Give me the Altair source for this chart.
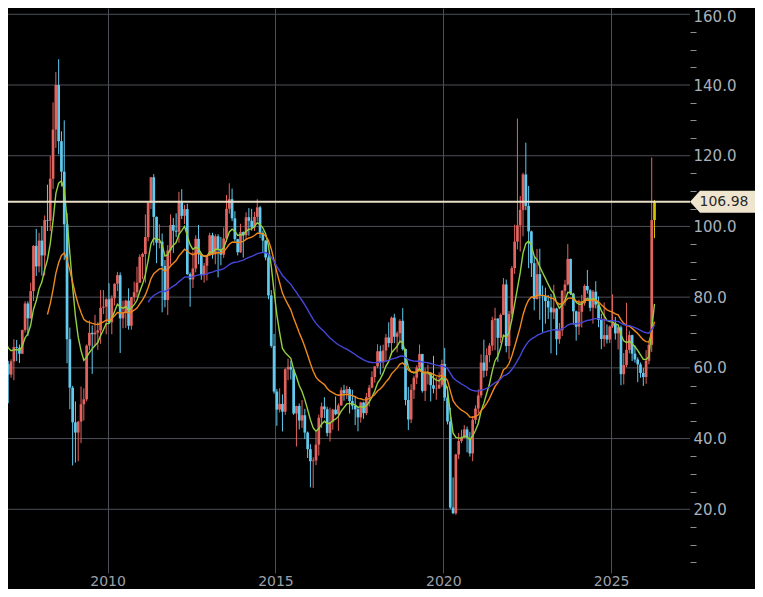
import altair as alt
import pandas as pd

# ---------------- data (monthly candles, Apr 2006 .. Apr 2026) ----------------
first_year = 2006
first_month = 4

opens = [
    66.6, 71.9, 71.3, 74.0, 74.4, 70.3, 62.9, 58.7, 63.1,                      # 2006
    61.1, 58.1, 61.8, 65.9, 65.7, 64.0, 70.7, 78.2, 74.0, 81.7, 94.5, 88.7,    # 2007
    96.0, 91.8, 101.8, 101.6, 113.5, 127.4, 140.0, 124.1, 115.5, 100.6, 68.1, 54.4,  # 2008
    44.6, 41.7, 44.8, 49.7, 51.1, 66.3, 69.9, 69.5, 70.0, 70.6, 77.0, 77.3,    # 2009
    79.4, 72.9, 79.7, 83.8, 86.2, 74.0, 75.6, 79.0, 71.9, 80.0, 81.4, 84.1,    # 2010
    91.4, 92.2, 97.0, 106.7, 113.9, 102.7, 95.4, 95.7, 88.8, 79.2, 93.2, 100.4,  # 2011
    98.8, 98.5, 107.1, 103.0, 104.9, 86.5, 85.0, 88.1, 96.5, 92.2, 86.2, 88.9,   # 2012
    91.8, 97.5, 92.1, 97.2, 93.5, 92.0, 96.6, 105.0, 107.7, 102.3, 96.4, 92.7,   # 2013
    98.4, 97.5, 102.6, 101.6, 99.7, 102.7, 105.4, 98.2, 96.0, 91.2, 80.5, 66.2,  # 2014
    53.3, 48.2, 49.8, 47.6, 59.6, 60.3, 59.5, 47.1, 49.2, 45.1, 46.6, 41.7,    # 2015
    37.0, 33.6, 33.8, 38.3, 45.9, 49.1, 48.3, 41.6, 44.7, 48.2, 46.9, 49.4,    # 2016
    53.7, 52.8, 54.0, 50.6, 49.3, 48.3, 46.0, 50.2, 47.2, 51.7, 54.4, 57.4,    # 2017
    60.4, 64.7, 61.6, 64.9, 68.6, 67.0, 74.2, 68.8, 69.8, 73.3, 65.3, 50.9,    # 2018
    45.4, 53.8, 57.2, 60.1, 63.9, 53.5, 58.5, 58.6, 55.1, 54.1, 54.2, 55.2,    # 2019
    61.1, 51.6, 44.8, 20.5, 18.9, 35.5, 39.3, 40.3, 42.6, 40.2, 35.8, 45.3,    # 2020
    48.5, 52.2, 61.5, 59.2, 63.6, 66.3, 73.5, 73.95, 68.5, 75.0, 83.6, 66.2,   # 2021
    75.2, 88.2, 95.7, 100.3, 104.7, 114.7, 105.8, 98.6, 89.6, 79.5, 86.5, 80.6,  # 2022
    80.3, 78.9, 77.1, 75.7, 76.8, 68.1, 70.6, 81.8, 83.6, 90.8, 81.0, 76.0,    # 2023
    71.65, 75.85, 78.26, 83.17, 81.93, 76.99, 81.54, 77.91, 73.55, 68.17, 69.26, 68.0,  # 2024
    71.72, 72.53, 69.76, 71.48, 58.21, 60.79, 65.11, 69.26, 64.01, 62.37, 60.98, 58.55,  # 2025
    57.4, 62.0, 66.5, 101.8,                                                   # 2026
]
highs = [
    75.4, 74.6, 74.2, 78.4, 77.0, 70.8, 64.1, 62.5, 64.3,
    62.0, 62.4, 68.1, 67.9, 66.6, 70.8, 78.8, 78.8, 84.1, 94.7, 99.3, 98.2,
    100.1, 103.1, 111.8, 119.9, 135.1, 143.7, 147.3, 126.9, 130.0, 103.8, 71.4, 54.9,
    50.5, 45.0, 54.7, 54.2, 66.6, 73.4, 72.0, 75.0, 72.9, 82.0, 82.0, 79.7,
    83.95, 80.5, 83.9, 87.15, 87.0, 79.0, 79.3, 82.5, 80.0, 84.4, 88.6, 92.1,
    92.6, 103.4, 107.0, 113.97, 114.8, 102.8, 100.6, 98.0, 90.5, 94.7, 103.4, 102.4,
    103.7, 109.8, 110.55, 106.1, 106.4, 87.0, 92.9, 97.5, 100.4, 92.6, 89.7, 91.98,
    98.2, 98.2, 97.8, 97.8, 97.0, 99.7, 108.9, 112.2, 110.7, 104.3, 96.5, 100.75,
    98.6, 104.0, 105.2, 104.99, 104.1, 107.7, 105.8, 98.8, 96.1, 92.2, 82.0, 69.6,
    54.0, 54.2, 52.5, 59.9, 62.6, 62.0, 59.7, 49.3, 49.9, 50.9, 48.4, 42.0,
    38.4, 34.7, 41.9, 46.8, 50.2, 51.7, 49.0, 48.75, 48.4, 51.9, 49.95, 54.5,
    55.2, 54.9, 54.6, 53.8, 52.0, 48.9, 50.4, 50.4, 52.9, 55.2, 59.05, 60.5,
    66.7, 66.3, 66.55, 69.6, 72.9, 74.5, 75.3, 70.3, 73.8, 76.9, 65.5, 54.55,
    55.4, 57.8, 60.7, 66.6, 64.0, 59.9, 60.9, 58.8, 63.4, 57.5, 58.7, 62.3,
    65.65, 54.7, 48.7, 29.0, 35.7, 41.6, 42.5, 43.8, 43.4, 41.9, 46.3, 49.4,
    53.9, 63.8, 67.98, 65.5, 67.0, 74.45, 76.98, 74.0, 75.4, 85.4, 84.97, 76.1,
    88.8, 100.5, 130.5, 108.6, 115.2, 123.7, 111.45, 98.8, 91.4, 93.6, 93.7, 83.3,
    82.7, 80.6, 80.9, 83.5, 77.0, 72.7, 82.0, 84.9, 95.0, 90.9, 81.2, 76.2,
    79.3, 80.6, 83.6, 87.7, 82.3, 82.0, 84.5, 80.2, 75.3, 78.5, 72.3, 72.0,
    80.8, 74.4, 71.9, 72.0, 64.2, 78.4, 70.5, 69.4, 66.4, 63.0, 61.5, 60.0,
    65.0, 67.5, 119.5, 107.5,
]
lows = [
    66.0, 68.2, 68.4, 72.6, 69.7, 59.5, 56.6, 54.9, 60.3,
    50.0, 57.2, 56.5, 61.9, 61.4, 63.9, 70.0, 69.0, 73.9, 78.9, 86.0, 87.0,
    86.1, 86.1, 98.7, 98.7, 110.6, 122.2, 120.4, 111.3, 90.5, 61.3, 48.3, 32.4,
    33.2, 33.6, 38.7, 45.1, 50.5, 65.0, 58.3, 66.1, 65.1, 66.8, 75.2, 69.5,
    72.4, 69.5, 77.6, 81.7, 64.2, 71.2, 71.3, 70.8, 70.8, 78.7, 80.0, 84.0,
    85.1, 84.1, 95.8, 104.9, 94.6, 89.6, 93.8, 75.7, 77.1, 74.95, 89.2, 92.5,
    97.0, 95.4, 102.1, 100.7, 86.3, 77.3, 82.6, 87.0, 89.3, 84.9, 84.1, 84.7,
    91.6, 90.9, 89.3, 85.6, 89.0, 91.1, 95.6, 103.6, 101.5, 95.8, 91.8, 92.5,
    91.2, 96.4, 97.4, 98.8, 98.7, 101.4, 96.7, 92.5, 90.4, 79.4, 65.7, 52.7,
    43.6, 47.4, 42.0, 46.7, 56.5, 56.7, 46.7, 37.75, 42.6, 43.0, 39.9, 34.5,
    26.2, 26.05, 32.5, 35.2, 43.0, 45.8, 40.6, 39.2, 42.5, 46.6, 42.2, 49.3,
    50.7, 51.2, 47.1, 48.2, 43.8, 42.05, 44.5, 45.6, 46.6, 49.1, 54.2, 55.8,
    59.9, 58.1, 59.9, 61.9, 65.8, 63.6, 67.0, 64.4, 67.0, 64.9, 49.4, 42.4,
    44.35, 51.2, 55.4, 59.9, 53.0, 50.6, 55.3, 50.5, 52.8, 50.99, 54.0, 54.6,
    50.6, 44.0, 20.1, 18.6, 18.4, 34.2, 38.7, 40.2, 36.1, 34.9, 33.6, 44.2,
    47.2, 51.5, 57.25, 57.6, 61.6, 64.8, 65.0, 61.7, 67.0, 74.95, 64.4, 62.4,
    74.3, 86.6, 93.5, 92.9, 97.2, 104.6, 88.2, 85.7, 76.25, 79.3, 73.6, 70.1,
    72.5, 73.8, 64.1, 73.8, 63.6, 66.8, 69.0, 77.6, 83.3, 80.6, 72.2, 67.7,
    69.3, 71.4, 77.6, 81.0, 76.0, 72.5, 76.8, 71.5, 65.3, 66.0, 66.9, 67.0,
    71.3, 68.0, 65.2, 55.1, 55.3, 60.2, 64.1, 61.9, 61.5, 55.96, 57.2, 54.9,
    55.5, 61.0, 64.5, 96.7,
]
closes = [
    71.9, 71.3, 74.0, 74.4, 70.3, 62.9, 58.7, 63.1, 61.1,
    58.1, 61.8, 65.9, 65.7, 64.0, 70.7, 78.2, 74.0, 81.7, 94.5, 88.7, 96.0,
    91.8, 101.8, 101.6, 113.5, 127.4, 140.0, 124.1, 115.5, 100.6, 68.1, 54.4, 44.6,
    41.7, 44.8, 49.7, 51.1, 66.3, 69.9, 69.5, 70.0, 70.6, 77.0, 77.3, 79.4,
    72.9, 79.7, 83.8, 86.2, 74.0, 75.6, 79.0, 71.9, 80.0, 81.4, 84.1, 91.4,
    92.2, 97.0, 106.7, 113.9, 102.7, 95.4, 95.7, 88.8, 79.2, 93.2, 100.4, 98.8,
    98.5, 107.1, 103.0, 104.9, 86.5, 85.0, 88.1, 96.5, 92.2, 86.2, 88.9, 91.8,
    97.5, 92.1, 97.2, 93.5, 92.0, 96.6, 105.0, 107.7, 102.3, 96.4, 92.7, 98.4,
    97.5, 102.6, 101.6, 99.7, 102.7, 105.4, 98.2, 96.0, 91.2, 80.5, 66.2, 53.3,
    48.2, 49.8, 47.6, 59.6, 60.3, 59.5, 47.1, 49.2, 45.1, 46.6, 41.7, 37.0,
    33.6, 33.8, 38.3, 45.9, 49.1, 48.3, 41.6, 44.7, 48.2, 46.9, 49.4, 53.7,
    52.8, 54.0, 50.6, 49.3, 48.3, 46.0, 50.2, 47.2, 51.7, 54.4, 57.4, 60.4,
    64.7, 61.6, 64.9, 68.6, 67.0, 74.2, 68.8, 69.8, 73.3, 65.3, 50.9, 45.4,
    53.8, 57.2, 60.1, 63.9, 53.5, 58.5, 58.6, 55.1, 54.1, 54.2, 55.2, 61.1,
    51.6, 44.8, 20.5, 18.9, 35.5, 39.3, 40.3, 42.6, 40.2, 35.8, 45.3, 48.5,
    52.2, 61.5, 59.2, 63.6, 66.3, 73.5, 73.95, 68.5, 75.0, 83.6, 66.2, 75.2,
    88.2, 95.7, 100.3, 104.7, 114.7, 105.8, 98.6, 89.6, 79.5, 86.5, 80.6, 80.3,
    78.9, 77.1, 75.7, 76.8, 68.1, 70.6, 81.8, 83.6, 90.8, 81.0, 76.0, 71.65,
    75.85, 78.26, 83.17, 81.93, 76.99, 81.54, 77.91, 73.55, 68.17, 69.26, 68.0, 71.72,
    72.53, 69.76, 71.48, 58.21, 60.79, 65.11, 69.26, 64.01, 62.37, 60.98, 58.55, 57.4,
    62.0, 66.5, 101.8, 106.98,
]

last_price = 106.98
year_ticks = [2010, 2015, 2020, 2025]
price_ticks = list(range(5, 165, 5))
grid_prices = [20, 40, 60, 80, 100, 120, 140, 160]
ema_periods = [9, 24, 60]
ema_colors = ["#94d040", "#f0891c", "#4646d8"]

# ---------------- layout / style ----------------
FONT = "DejaVu Sans"
W, H = 682, 565
XDOM = [2007.182, 2027.20]
YDOM = [1.98, 161.78]
GRID = "#4d5058"

n = len(closes)
t = [first_year + (first_month - 1 + i + 0.5) / 12 for i in range(n)]
kind = ["up" if c >= o else "down" for o, c in zip(opens, closes)]
kind[-1] = "now"
df = pd.DataFrame({"t": t, "o": opens, "h": highs, "l": lows, "c": closes, "kind": kind})

xs = alt.Scale(domain=XDOM, nice=False, zero=False)
ys = alt.Scale(domain=YDOM, nice=False, zero=False)

x_axis = alt.Axis(
    values=year_ticks, format="d", grid=True, gridColor=GRID, gridWidth=1,
    domain=False, ticks=False, tickSize=0, labelPadding=8, labelBaseline="middle",
    labelFont=FONT, labelFontSize=14, labelColor="#9ba1a8", labelFlush=False,
    labelOverlap=False, title=None,
)
y_axis = alt.Axis(
    orient="right", values=price_ticks,
    labelExpr="datum.value % 20 === 0 ? format(datum.value, '.1f') : ''",
    grid=False, domain=False, ticks=True, tickSize=6, tickColor="#8a8e96",
    tickOpacity={"condition": {"test": "datum.value % 20 === 0", "value": 0}, "value": 1},
    labelOffset={"condition": {"test": "datum.value >= 160", "value": 2}, "value": 0},
    labelPadding=-3, labelFont=FONT, labelFontSize=15, labelColor="#a9b1ba",
    labelOverlap=False, labelFlush=False, title=None,
)


def X(f):
    return alt.X(f"{f}:Q", scale=xs, axis=x_axis)


def Y(f):
    return alt.Y(f"{f}:Q", scale=ys, axis=y_axis)


color = alt.Color(
    "kind:N",
    scale=alt.Scale(domain=["up", "down", "now"], range=["#e3645f", "#62caef", "#d2c400"]),
    legend=None,
)

base = alt.Chart(df)
by_t = [alt.SortField("t")]

hgrid = alt.Chart(pd.DataFrame({"g": grid_prices})).mark_rule(
    color=GRID, strokeWidth=1
).encode(y=Y("g"))

wicks = base.mark_rule(strokeWidth=1, clip=True).encode(
    x=X("t"), y=Y("l"), y2="h:Q", color=color
)
bodies = base.mark_bar(size=2.7, clip=True).encode(
    x=X("t"), y=Y("o"), y2="c:Q", color=color
)


def ema_layer(p, col):
    # exponential moving average of closes, seeded with the simple mean of the first p closes
    a = 2.0 / (p + 1)
    r = 1.0 - a
    return (
        base.transform_window(i="row_number()", sort=by_t)
        .transform_window(sma="mean(c)", frame=[-(p - 1), 0], sort=by_t)
        .transform_calculate(k="datum.i - 1")
        .transform_calculate(
            u=f"datum.k >= {p} ? {a} * datum.c * pow({r}, -datum.k) : "
              f"(datum.k == {p - 1} ? datum.sma * pow({r}, -datum.k) : 0)"
        )
        .transform_window(cum="sum(u)", frame=[None, 0], sort=by_t)
        .transform_calculate(ema=f"datum.cum * pow({r}, datum.k)")
        .transform_filter(f"datum.k >= {p - 1}")
        .mark_line(color=col, strokeWidth=1.4, clip=True)
        .encode(x=X("t"), y=Y("ema"))
    )


emas = [ema_layer(p, c) for p, c in zip(ema_periods, ema_colors)]

price_df = pd.DataFrame({"p": [last_price], "label": [f"{last_price:.2f}"]})
price_line = alt.Chart(price_df).mark_rule(color="#e9dfc9", strokeWidth=2).encode(y=Y("p"))

tag_path = "M -1 0 L -0.726 -0.301 L 1 -0.301 L 1 0.301 L -0.726 0.301 Z"
tag = alt.Chart(price_df).mark_point(
    shape=tag_path, size=5329, filled=True, fill="#efe5cf", opacity=1, strokeWidth=0
).encode(x=alt.value(718.5), y=Y("p"))
tag_text = alt.Chart(price_df).mark_text(
    font=FONT, fontSize=14, color="#2a2a2a", align="center", baseline="middle"
).encode(x=alt.value(716), y=Y("p"), text="label:N")

chart = (
    alt.layer(hgrid, wicks, bodies, *emas, price_line, tag, tag_text)
    .properties(
        width=W, height=H,
        autosize=alt.AutoSizeParams(type="none"),
        padding={"left": 0, "top": 0, "right": 747 - W, "bottom": 581 - H},
        background="#000000",
    )
    .configure_view(strokeWidth=0)
)

chart.save("out.html", embed_options={"renderer": "svg", "actions": False})
